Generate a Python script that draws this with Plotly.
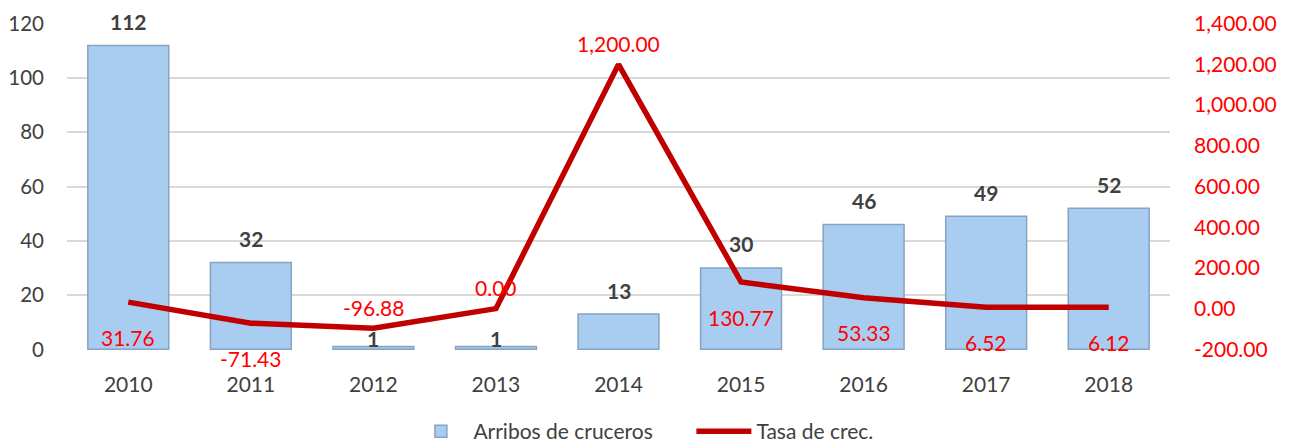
import plotly.graph_objects as go

years = ["2010", "2011", "2012", "2013", "2014", "2015", "2016", "2017", "2018"]
arribos = [112, 32, 1, 1, 13, 30, 46, 49, 52]
tasa = [31.76, -71.43, -96.88, 0.00, 1200.00, 130.77, 53.33, 6.52, 6.12]
tasa_labels = ["31.76", "-71.43", "-96.88", "0.00", "1,200.00", "130.77", "53.33", "6.52", "6.12"]
tasa_label_pos = ["below", "below", "above", "above", "above", "below", "below", "below", "below"]
y2_ticks = [-200, 0, 200, 400, 600, 800, 1000, 1200, 1400]
y2_ticktext = ["-200.00", "0.00", "200.00", "400.00", "600.00", "800.00", "1,000.00", "1,200.00", "1,400.00"]

FONT = "Lato"
PAD = 0.25  # small padding so edge gridlines show

fig = go.Figure()
fig.add_trace(go.Bar(
    x=years, y=arribos, name="Arribos de cruceros",
    marker=dict(color="#a9cdf0", line=dict(color="#86a3c0", width=1.5)),
    width=0.66, yaxis="y",
))
fig.add_trace(go.Scatter(
    x=years, y=tasa, name="Tasa de crec.", mode="lines",
    line=dict(color="#c00000", width=5.5), yaxis="y2",
))

annotations = []
for i, v in enumerate(arribos):
    shift = 24 if v > 5 else 8
    annotations.append(dict(x=i, y=v, xref="x", yref="y", text=str(v), showarrow=False,
                            yshift=shift, font=dict(family=FONT, size=21, color="#404040", weight="bold")))
for i, (v, t, p) in enumerate(zip(tasa, tasa_labels, tasa_label_pos)):
    annotations.append(dict(x=i, y=v, xref="x", yref="y2", text=t, showarrow=False,
                            yshift=(21 if p == "above" else -35),
                            font=dict(family=FONT, size=21, color="#ff0000")))

r2 = PAD * 1600 / 120
fig.update_layout(
    width=1286, height=439,
    margin=dict(l=59, r=124, t=15, b=97),
    paper_bgcolor="white", plot_bgcolor="white",
    font=dict(family=FONT, size=20, color="#404040"),
    bargap=0.34,
    annotations=annotations,
    xaxis=dict(type="category", range=[-0.5, len(years) - 0.5], showgrid=False, showline=False,
               automargin=False,
               ticks="", ticklabelstandoff=20, tickfont=dict(size=21, color="#404040")),
    yaxis=dict(range=[-PAD, 120 + PAD], tickvals=[0, 20, 40, 60, 80, 100, 120],
               showgrid=True, gridcolor="#d9d9d9", gridwidth=2, automargin=False,
               zeroline=False, showline=False, ticks="", ticklabelstandoff=22,
               tickfont=dict(size=20.5, color="#404040")),
    yaxis2=dict(range=[-200 - r2, 1400 + r2], tickvals=y2_ticks, ticktext=y2_ticktext,
                overlaying="y", side="right", showgrid=False, automargin=False,
                zeroline=False, showline=False, ticks="", ticklabelstandoff=23,
                tickfont=dict(size=21, color="#ff0000")),
    legend=dict(orientation="h", x=0.3095, xanchor="left", yref="container", y=0.035,
                yanchor="middle", font=dict(size=21, color="#404040"), itemwidth=55,
                entrywidth=213, entrywidthmode="pixels"),
    showlegend=True,
)

fig.write_html("out.html")
